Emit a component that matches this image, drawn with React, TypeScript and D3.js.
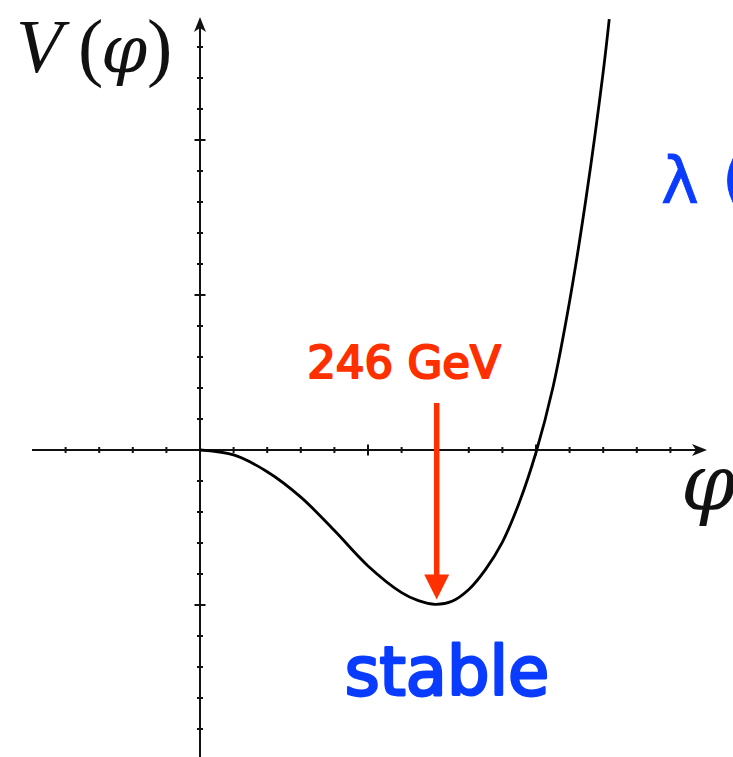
import React from 'react';
import * as d3 from 'd3';

// Potential V(φ) sampled along φ (axis units: one minor tick per unit)
const PHI = [0, 1, 2, 3, 4, 5, 6, 6.5, 7, 7.5, 8, 8.5, 9, 9.5, 10, 10.5, 11, 11.5, 12, 12.18];
const POT = [0, -0.16, -0.7, -1.52, -2.6, -3.74, -4.6, -4.86, -4.98, -4.88, -4.5, -3.85, -2.97, -1.7, -0.08, 2.0, 4.8, 8.2, 12.2, 13.9];

// Tick positions on each axis; every fifth one is drawn longer
const X_TICKS = [-4, -3, -2, -1, 1, 2, 3, 4, 5, 6, 7, 8, 9, 10, 11, 12, 13, 14];
const Y_TICKS = [-9, -8, -7, -6, -5, -4, -3, -2, -1, 1, 2, 3, 4, 5, 6, 7, 8, 9, 10, 11, 12, 13];

const VEV_PHI = 7; // location of the minimum (246 GeV)
const VEV_LABEL = '246 GeV';
const STATE_LABEL = 'stable';

const W = 733;
const H = 757;

export default function App() {
  const x = d3.scaleLinear().domain([-5, 15]).range([32, 704]);
  const y = d3.scaleLinear().domain([-10, 10]).range([760, 140]);

  const x0 = x(0);
  const y0 = y(0);

  const line = d3
    .line<number>()
    .x((_, i) => x(PHI[i]))
    .y((d) => y(d))
    .curve(d3.curveCatmullRom.alpha(0.5));

  const isMajor = (t: number) => t % 5 === 0;

  const vMin = POT[PHI.indexOf(VEV_PHI)];
  const ax = x(VEV_PHI) + 1.5;
  const arrowTop = 403;
  const arrowTip = y(vMin) - 5;

  const xEnd = 707;
  const yEnd = 17;

  return (
    <svg
      width={W}
      height={H}
      style={{ position: 'fixed', left: 0, top: 0, background: '#fff' }}
    >
      <rect width={W} height={H} fill="#fff" />
      {/* axes */}
      <g stroke="#111" strokeWidth={2} fill="none">
        <line x1={32} y1={y0} x2={xEnd - 4} y2={y0} />
        <line x1={x0} y1={H} x2={x0} y2={yEnd + 4} />
        {X_TICKS.map((t) => (
          <line
            key={'xt' + t}
            x1={x(t)}
            x2={x(t)}
            y1={y0 - (isMajor(t) ? 5.5 : 3)}
            y2={y0 + (isMajor(t) ? 5.5 : 3)}
          />
        ))}
        {Y_TICKS.map((t) => (
          <line
            key={'yt' + t}
            y1={y(t)}
            y2={y(t)}
            x1={x0 - (isMajor(t) ? 5.5 : 3)}
            x2={x0 + (isMajor(t) ? 5.5 : 3)}
          />
        ))}
      </g>
      {/* arrowheads */}
      <path
        d={`M${xEnd},${y0} L${xEnd - 15},${y0 - 6} L${xEnd - 11},${y0} L${xEnd - 15},${y0 + 6} Z`}
        fill="#111"
      />
      <path
        d={`M${x0},${yEnd} L${x0 - 6},${yEnd + 15} L${x0},${yEnd + 11} L${x0 + 6},${yEnd + 15} Z`}
        fill="#111"
      />

      {/* potential curve */}
      <path d={line(POT) || ''} fill="none" stroke="#000" strokeWidth={2.8} />

      {/* vev arrow */}
      <line x1={ax} x2={ax} y1={arrowTop} y2={arrowTip - 20} stroke="#ff3000" strokeWidth={5.5} />
      <path
        d={`M${ax},${arrowTip} L${ax - 12.5},${arrowTip - 25} L${ax + 12.5},${arrowTip - 25} Z`}
        fill="#ff3000"
      />
      <text
        x={404}
        y={378}
        textAnchor="middle"
        fontFamily="'DejaVu Sans', sans-serif"
        fontSize={45}
        fill="#ff3000"
        stroke="#ff3000"
        strokeWidth={2.2}
        strokeLinejoin="round"
      >
        {VEV_LABEL}
      </text>

      <text
        x={447}
        y={695}
        textAnchor="middle"
        fontFamily="'DejaVu Sans', sans-serif"
        fontSize={67}
        fill="#0a3cff"
        stroke="#0a3cff"
        strokeWidth={2.8}
        strokeLinejoin="round"
      >
        {STATE_LABEL}
      </text>

      {/* coupling label at the right edge */}
      <text
        y={203}
        fontFamily="'DejaVu Sans', sans-serif"
        fontSize={64}
        fill="#0a3cff"
        stroke="#0a3cff"
        strokeWidth={0.8}
      >
        <tspan x={661}>λ</tspan>
        <tspan x={722} dy={-2}>(</tspan>
      </text>

      {/* axis titles */}
      <text y={72} fontFamily="'Liberation Serif', serif" fontSize={76} fill="#111">
        <tspan x={16} fontStyle="italic">V</tspan>
        <tspan x={78}>(</tspan>
        <tspan x={101} fontStyle="italic" fontFamily="'DejaVu Serif', serif" fontSize={66}>φ</tspan>
        <tspan x={147}>)</tspan>
      </text>
      <text
        x={681}
        y={510}
        fontFamily="'DejaVu Serif', serif"
        fontStyle="italic"
        fontSize={78}
        fill="#111"
      >
        φ
      </text>
    </svg>
  );
}
